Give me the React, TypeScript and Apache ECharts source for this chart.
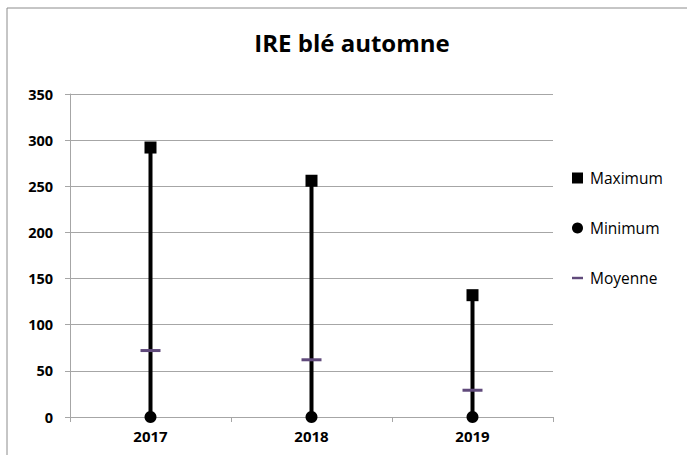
import React, { useEffect, useRef } from "react";
import * as echarts from "echarts";

const categories = ["2017", "2018", "2019"];
const maximum = [292, 256, 132];
const minimum = [0, 0, 0];
const moyenne = [72, 62, 29];
const yTicks = { min: 0, max: 350, interval: 50 };

export default function App() {
  const ref = useRef<HTMLDivElement>(null);
  useEffect(() => {
    const chart = echarts.init(ref.current!, undefined, { renderer: "svg" });
    const font = "'Open Sans', sans-serif";
    const gridColor = "#a6a6a6";
    chart.setOption({
      animation: false,
      backgroundColor: "#ffffff",
      textStyle: { fontFamily: font },
      title: {
        text: "IRE blé automne",
        left: 347,
        textAlign: "center",
        top: 25,
        textStyle: { fontFamily: font, fontSize: 24, fontWeight: "bold", color: "#000" },
      },
      graphic: [
        {
          type: "rect",
          shape: { x: 7, y: 8, width: 700, height: 500 },
          style: { fill: "none", stroke: "#8c8c8c", lineWidth: 1 },
          silent: true,
        },
      ],
      grid: { left: 70, right: 134, top: 94, bottom: 38 },
      xAxis: {
        type: "category",
        data: categories,
        axisLine: { lineStyle: { color: gridColor } },
        axisTick: { show: true, length: 5, lineStyle: { color: gridColor } },
        axisLabel: { color: "#000", fontWeight: "bold", fontSize: 15, fontFamily: font, margin: 11 },
      },
      yAxis: {
        type: "value",
        min: yTicks.min,
        max: yTicks.max,
        interval: yTicks.interval,
        axisLine: { show: true, lineStyle: { color: gridColor } },
        axisTick: { show: true, length: 5, lineStyle: { color: gridColor } },
        axisLabel: { color: "#000", fontWeight: "bold", fontSize: 14.5, fontFamily: font, margin: 17 },
        splitLine: { lineStyle: { color: gridColor } },
      },
      legend: {
        orient: "vertical",
        left: 572,
        top: 170,
        padding: 0,
        itemWidth: 11,
        itemHeight: 11,
        itemGap: 34,
        symbolKeepAspect: true,
        textStyle: { fontFamily: font, fontSize: 15.5, color: "#000", padding: [0, 0, 0, 2] },
        data: [
          { name: "Maximum", icon: "rect" },
          { name: "Minimum", icon: "circle" },
          { name: "Moyenne", icon: "path://M0,0h9v2h-9z" },
        ],
      },
      series: [
        {
          type: "custom",
          name: "range",
          data: categories.map((c, i) => [i, minimum[i], maximum[i]]),
          renderItem: (params: any, api: any) => {
            const lo = api.coord([api.value(0), api.value(1)]);
            const hi = api.coord([api.value(0), api.value(2)]);
            return {
              type: "line",
              shape: { x1: lo[0], y1: lo[1], x2: hi[0], y2: hi[1] },
              style: { stroke: "#000", lineWidth: 4 },
            };
          },
          z: 1,
        },
        {
          type: "scatter",
          name: "Maximum",
          data: maximum.map((v, i) => [categories[i], v]),
          symbol: "rect",
          symbolSize: 12,
          itemStyle: { color: "#000", opacity: 1 },
          z: 3,
        },
        {
          type: "scatter",
          name: "Minimum",
          data: minimum.map((v, i) => [categories[i], v]),
          symbol: "circle",
          symbolSize: 12,
          itemStyle: { color: "#000", opacity: 1 },
          z: 3,
        },
        {
          type: "scatter",
          name: "Moyenne",
          data: moyenne.map((v, i) => [categories[i], v]),
          symbol: "rect",
          symbolSize: [20, 3],
          itemStyle: { color: "#604A7B", opacity: 1 },
          z: 4,
        },
      ],
    });
    return () => chart.dispose();
  }, []);
  return (
    <div
      ref={ref}
      style={{ position: "absolute", left: 0, top: 0, width: 687, height: 455 }}
    />
  );
}
